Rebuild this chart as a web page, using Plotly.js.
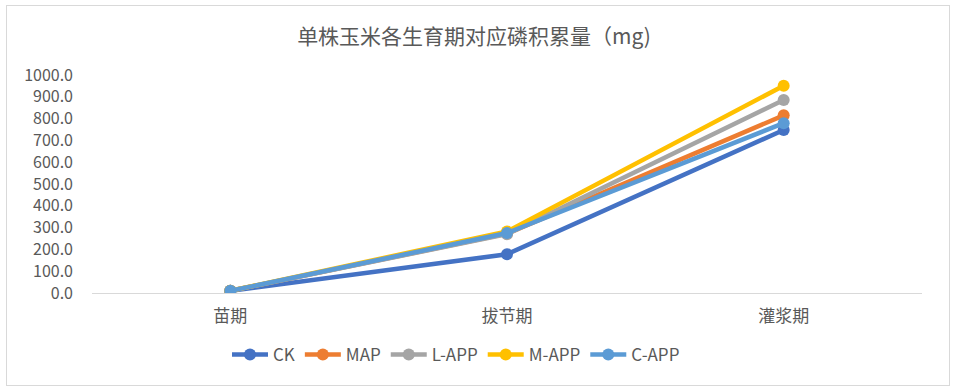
<!DOCTYPE html>
<html>
<head>
<meta charset="utf-8">
<script src="https://cdn.plot.ly/plotly-3.0.1.min.js"></script>
<style>
  html, body { margin: 0; padding: 0; background: #fff; }
  #wrap { position: relative; width: 956px; height: 391px; }
  #chart { width: 956px; height: 391px; }
  #frame { position: absolute; left: 6px; top: 5px; width: 942px; height: 379px; border: 1px solid #d9d9d9; pointer-events: none; }
</style>
</head>
<body>
<div id="wrap">
  <div id="chart"></div>
  <div id="frame"></div>
</div>
<script>
const categories = ['苗期', '拔节期', '灌浆期'];
const seriesNames = ['CK', 'MAP', 'L-APP', 'M-APP', 'C-APP'];
const ckValues = [10, 178, 748];
const mapValues = [10, 272, 815];
const lappValues = [10, 270, 885];
const mappValues = [10, 282, 951];
const cappValues = [10, 275, 779];
const yTickValues = [0, 100, 200, 300, 400, 500, 600, 700, 800, 900, 1000];

const colors = ['#4472C4', '#ED7D31', '#A5A5A5', '#FFC000', '#5B9BD5'];
const allValues = [ckValues, mapValues, lappValues, mappValues, cappValues];
const font = '"Noto Sans CJK SC", "Noto Sans", sans-serif';

const traces = seriesNames.map((name, i) => ({
  type: 'scatter',
  mode: 'lines+markers',
  name: name,
  x: categories,
  y: allValues[i],
  line: { color: colors[i], width: 4.5 },
  marker: { color: colors[i], size: 12 }
}));

const layout = {
  width: 956,
  height: 391,
  margin: { l: 92, r: 34, t: 75, b: 98 },
  paper_bgcolor: '#ffffff',
  plot_bgcolor: '#ffffff',
  font: { family: font, color: '#595959', size: 14 },
  title: {
    text: '单株玉米各生育期对应磷积累量（mg)',
    font: { family: font, size: 21, color: '#595959' },
    x: 474 / 956, xanchor: 'center', xref: 'container',
    y: 1 - 37 / 391, yanchor: 'middle', yref: 'container'
  },
  xaxis: {
    type: 'category',
    showline: true, linecolor: '#d9d9d9', linewidth: 1,
    showgrid: false, zeroline: false, ticks: '',
    tickfont: { family: font, size: 17, color: '#595959' },
    ticklabelstandoff: 8,
    range: [-0.5, 2.5]
  },
  yaxis: {
    range: [0, 1000],
    tickvals: yTickValues,
    tickformat: '.1f',
    showgrid: false, zeroline: false, showline: false, ticks: '',
    tickfont: { family: font, size: 16, color: '#595959' },
    ticklabelstandoff: 18
  },
  showlegend: true,
  legend: {
    orientation: 'h',
    x: 456 / 956, xanchor: 'center', xref: 'container',
    y: 1 - 355 / 391, yanchor: 'middle', yref: 'container',
    font: { family: font, size: 17, color: '#595959' },
    itemwidth: 36
  }
};

Plotly.newPlot('chart', traces, layout, { displayModeBar: false, staticPlot: true });
</script>
</body>
</html>
